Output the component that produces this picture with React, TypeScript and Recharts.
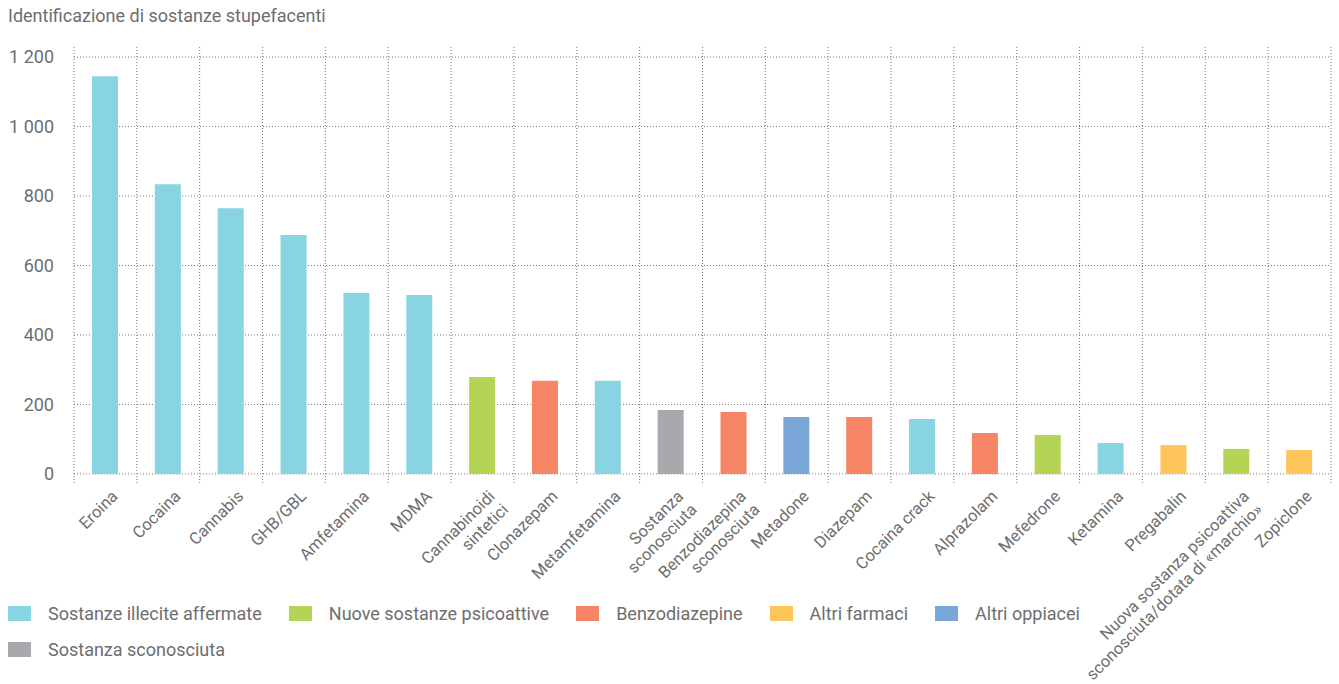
import { BarChart, Bar, XAxis, YAxis, CartesianGrid, Cell } from "recharts";

const categories = [
  "Eroina",
  "Cocaina",
  "Cannabis",
  "GHB/GBL",
  "Amfetamina",
  "MDMA",
  "Cannabinoidi\nsintetici",
  "Clonazepam",
  "Metamfetamina",
  "Sostanza\nsconosciuta",
  "Benzodiazepina\nsconosciuta",
  "Metadone",
  "Diazepam",
  "Cocaina crack",
  "Alprazolam",
  "Mefedrone",
  "Ketamina",
  "Pregabalin",
  "Nuova sostanza psicoattiva\nsconosciuta/dotata di «marchio»",
  "Zopiclone",
];
const values = [1145, 834, 765, 688, 521, 515, 279, 268, 268, 184, 178, 164, 164, 158, 118, 112, 89, 83, 72, 69];
// index into groupNames for each category
const categoryGroup = [0, 0, 0, 0, 0, 0, 1, 2, 0, 5, 2, 4, 2, 0, 2, 1, 0, 3, 1, 3];

const groupNames = [
  "Sostanze illecite affermate",
  "Nuove sostanze psicoattive",
  "Benzodiazepine",
  "Altri farmaci",
  "Altri oppiacei",
  "Sostanza sconosciuta",
];
const groupColors = ["#88d4e2", "#b5d455", "#f58565", "#fdc55a", "#7aa7d8", "#a8a9ad"];

const yTicks = [0, 200, 400, 600, 800, 1000, 1200];

const data = categories.map((name, i) => ({ name, value: values[i], group: categoryGroup[i] }));

const FONT = "Roboto, sans-serif";
const TEXT = "#6e6e6e";

const fmt = (v: number) => String(v).replace(/\B(?=(\d{3})+(?!\d))/g, " ");

// grid lines sit on the category boundaries, not on the band centres
const boundaries = ({ offset }: any) =>
  Array.from({ length: categories.length + 1 }, (_, i) => offset.left + (i * offset.width) / categories.length);

const AngledTick = ({ x, y, payload }: any) => {
  const lines = String(payload.value).split("\n");
  return (
    <g transform={`translate(${x + 5},${y + 3})`}>
      <text transform="rotate(-45)" textAnchor="end" fill={TEXT} fontSize={16.5} fontFamily={FONT}>
        {lines.map((l, i) => (
          <tspan key={i} x={0} dy={i === 0 ? "0.71em" : "1.15em"}>
            {l}
          </tspan>
        ))}
      </text>
    </g>
  );
};

const App = () => {
  return (
    <div style={{ position: "absolute", left: 0, top: 0, width: 1339, height: 684, background: "#fff", fontFamily: FONT }}>
      <div style={{ position: "absolute", left: 8, top: 5, fontSize: 18, color: TEXT }}>
        Identificazione di sostanze stupefacenti
      </div>
      <BarChart width={1339} height={684} data={data} margin={{ top: 47, right: 8, left: 0, bottom: 170 }}>
        <CartesianGrid
          stroke="#777"
          strokeDasharray="1 2"
          horizontalValues={yTicks}
          verticalCoordinatesGenerator={boundaries}
        />
        <XAxis
          dataKey="name"
          interval={0}
          height={30}
          axisLine={false}
          tickLine={false}
          tickSize={0}
          tick={<AngledTick />}
        />
        <YAxis
          width={74}
          domain={[-29, 1229]}
          ticks={yTicks}
          axisLine={false}
          tickLine={false}
          tickSize={0}
          tickMargin={20}
          tickFormatter={fmt}
          tick={{ fill: TEXT, fontSize: 18, fontFamily: FONT }}
        />
        <Bar dataKey="value" barSize={26} isAnimationActive={false}>
          {data.map((d, i) => (
            <Cell key={i} fill={groupColors[d.group]} />
          ))}
        </Bar>
      </BarChart>
      <div
        style={{
          position: "absolute",
          left: 8,
          top: 602,
          width: 1100,
          display: "flex",
          flexWrap: "wrap",
          columnGap: 27,
          rowGap: 14,
          fontSize: 18,
          color: TEXT,
        }}
      >
        {groupNames.map((g, i) => (
          <div key={g} style={{ display: "flex", alignItems: "center", height: 22 }}>
            <div style={{ width: 23, height: 15, background: groupColors[i], marginRight: 17 }} />
            <span>{g}</span>
          </div>
        ))}
      </div>
    </div>
  );
};

export default App;
